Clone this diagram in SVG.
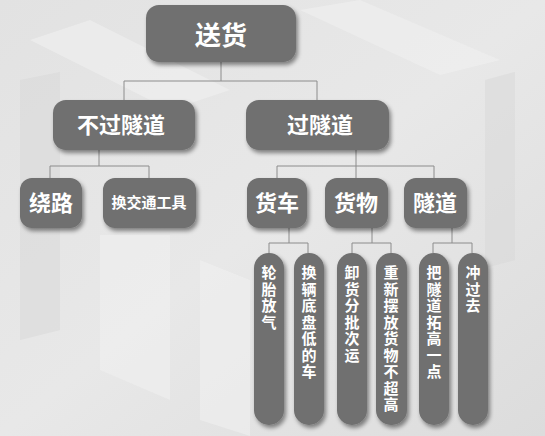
<svg xmlns="http://www.w3.org/2000/svg" width="545" height="436" viewBox="0 0 545 436">
<defs>
<linearGradient id="bg" x1="0" y1="0" x2="1" y2="1">
<stop offset="0" stop-color="#e2e2e2"/>
<stop offset="0.5" stop-color="#e8e8e8"/>
<stop offset="1" stop-color="#dcdcdc"/>
</linearGradient>
<filter id="sh" x="-20%" y="-20%" width="140%" height="150%">
<feDropShadow dx="2" dy="3" stdDeviation="2" flood-color="#000" flood-opacity="0.45"/>
</filter>
<style>
.box{fill:#6f6f6f;filter:url(#sh)}
.t{fill:#ffffff;font-family:"Noto Sans CJK SC","Noto Sans",sans-serif;font-weight:bold;text-anchor:middle}
.v{fill:#ffffff;font-family:"Noto Sans CJK SC","Noto Sans",sans-serif;font-weight:bold;font-size:15px;writing-mode:vertical-rl;text-anchor:start;letter-spacing:1.5px}
.ln{stroke:#8c8c8c;stroke-width:1;fill:none}
.bgs{fill:#f0f0f0;opacity:0.6}
.bgd{fill:#d8d8d8;opacity:0.5}
</style>
</defs>
<rect width="545" height="436" fill="url(#bg)"/>
<g id="background">
<polygon class="bgs" points="30,40 90,20 230,90 170,110"/>
<polygon class="bgs" points="300,10 360,0 500,60 440,75"/>
<polygon class="bgd" points="20,80 60,72 60,330 20,340"/>
<polygon class="bgs" points="100,235 170,235 170,400 100,370"/>
<polygon class="bgs" points="200,260 250,280 250,436 200,420"/>
<polygon class="bgd" points="485,80 515,72 515,260 485,268"/>
</g>
<g id="connectors" class="ln">
<path d="M221,62 V81 M124,81 H317 M124,81 V100 M317,81 V100"/>
<path d="M99,150 V166 M50,166 H149 M50,166 V178 M149,166 V178"/>
<path d="M356,150 V166 M277,166 H434 M277,166 V178 M356,166 V178 M434,166 V178"/>
<path d="M289,228 V243 M269,243 H308 M269,243 V253 M308,243 V253"/>
<path d="M372,228 V243 M352,243 H391 M352,243 V253 M391,243 V253"/>
<path d="M452,228 V243 M433,243 H472 M433,243 V253 M472,243 V253"/>
</g>
<g id="n-songhuo">
<rect class="box" x="146" y="5" width="150" height="57" rx="13"/>
<text class="t" x="221" y="45" font-size="26">送货</text>
</g>
<g id="n-buguosuidao">
<rect class="box" x="53" y="100" width="142" height="50" rx="13"/>
<text class="t" x="121" y="133" font-size="22">不过隧道</text>
</g>
<g id="n-guosuidao">
<rect class="box" x="246" y="100" width="143" height="50" rx="13"/>
<text class="t" x="320" y="133" font-size="22">过隧道</text>
</g>
<g id="n-raolu">
<rect class="box" x="20" y="178" width="62" height="50" rx="12"/>
<text class="t" x="51" y="211" font-size="22">绕路</text>
</g>
<g id="n-huanjiaotong">
<rect class="box" x="103" y="178" width="93" height="50" rx="12"/>
<text class="t" x="149" y="208" font-size="15">换交通工具</text>
</g>
<g id="n-huoche">
<rect class="box" x="247" y="178" width="60" height="50" rx="12"/>
<text class="t" x="277" y="211" font-size="22">货车</text>
</g>
<g id="n-huowu">
<rect class="box" x="325" y="178" width="63" height="50" rx="12"/>
<text class="t" x="356" y="211" font-size="22">货物</text>
</g>
<g id="n-suidao">
<rect class="box" x="404" y="178" width="63" height="50" rx="12"/>
<text class="t" x="435" y="211" font-size="22">隧道</text>
</g>
<g id="n-luntai">
<rect class="box" x="254" y="253" width="30" height="172" rx="15"/>
<text class="v" x="269" y="265">轮胎放气</text>
</g>
<g id="n-huanliang">
<rect class="box" x="294" y="253" width="30" height="172" rx="15"/>
<text class="v" x="309" y="265">换辆底盘低的车</text>
</g>
<g id="n-xiehuo">
<rect class="box" x="337" y="253" width="30" height="172" rx="15"/>
<text class="v" x="352" y="265">卸货分批次运</text>
</g>
<g id="n-chongxin">
<rect class="box" x="376" y="253" width="31" height="172" rx="15"/>
<text class="v" x="391" y="265">重新摆放货物不超高</text>
</g>
<g id="n-basuidao">
<rect class="box" x="419" y="253" width="30" height="172" rx="15"/>
<text class="v" x="434" y="265">把隧道拓高一点</text>
</g>
<g id="n-chongguoqu">
<rect class="box" x="458" y="253" width="30" height="172" rx="15"/>
<text class="v" x="473" y="265">冲过去</text>
</g>
</svg>
